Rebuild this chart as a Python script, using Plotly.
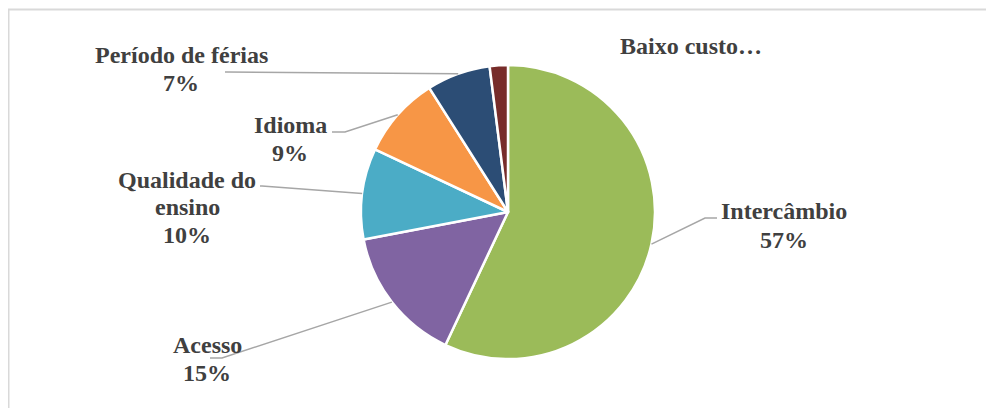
import numpy as np
import plotly.graph_objects as go

categories = ["Intercâmbio", "Acesso", "Qualidade do ensino", "Idioma", "Período de férias", "Baixo custo…"]
values = [57, 15, 10, 9, 7, 2]
label_lines = [["Intercâmbio", "57%"], ["Acesso", "15%"], ["Qualidade do", "ensino", "10%"],
               ["Idioma", "9%"], ["Período de férias", "7%"], ["Baixo custo…"]]
colors = ["#9BBB59", "#8064A2", "#4BACC6", "#F79646", "#2C4D75", "#772C2A"]

# page coordinates (browser body has an 8px margin)
OFF = 8
W, H = 994 - OFF, 408 - OFF
CX, CY, R = 508, 212, 147

# label x centre and line y centres (page pixels); leader elbow points; None = no leader
label_x = [784, 207, 187, 290, 181, 691]
label_y = [[211, 240], [345, 373], [180, 207, 235], [125, 153], [55, 83.5], [45.5]]
elbows = [[(705, 218), (717, 218)],
          [(222, 358), (210, 358)],
          [(262, 186), (260, 186)],
          [(345, 132), (332, 132)],
          [(227, 72), (225, 72)],
          None]

def px(x):
    return (x - OFF) / W

def py(y):
    return 1 - (y - OFF) / H

fig = go.Figure(go.Pie(
    labels=categories, values=values, sort=False, direction="clockwise", rotation=0,
    marker=dict(colors=colors, line=dict(color="white", width=2.5)),
    textinfo="none", hoverinfo="label+percent", showlegend=False,
    domain=dict(x=[px(CX - R), px(CX + R)], y=[py(CY + R), py(CY - R)]),
))

total = sum(values)
cum = np.cumsum([0] + values)
shapes = []
for i, v in enumerate(values):
    if elbows[i] is None:
        continue
    mid = 2 * np.pi * (cum[i] + v / 2) / total
    sx = CX + R * np.sin(mid)
    sy = CY - R * np.cos(mid)
    pts = [(sx, sy)] + elbows[i]
    path = "M " + " L ".join(f"{px(x):.5f},{py(y):.5f}" for x, y in pts)
    shapes.append(dict(type="path", xref="paper", yref="paper", path=path,
                       line=dict(color="#A6A6A6", width=1.5)))

# chart area border
shapes.append(dict(type="rect", xref="paper", yref="paper",
                   x0=px(8.5), x1=px(994 + 20), y0=py(408 + 20), y1=py(9.5),
                   line=dict(color="#D9D9D9", width=2), fillcolor="rgba(0,0,0,0)"))

annotations = []
for lines, x, ys in zip(label_lines, label_x, label_y):
    for t, y in zip(lines, ys):
        annotations.append(dict(text=f"<b>{t}</b>", x=px(x), y=py(y),
                                xref="paper", yref="paper", xanchor="center", yanchor="middle",
                                align="center", showarrow=False,
                                font=dict(family="Liberation Serif", size=24, color="#404040")))

fig.update_layout(width=W, height=H, margin=dict(l=0, r=0, t=0, b=0),
                  paper_bgcolor="white", plot_bgcolor="white",
                  shapes=shapes, annotations=annotations)
fig.write_html("out.html")
